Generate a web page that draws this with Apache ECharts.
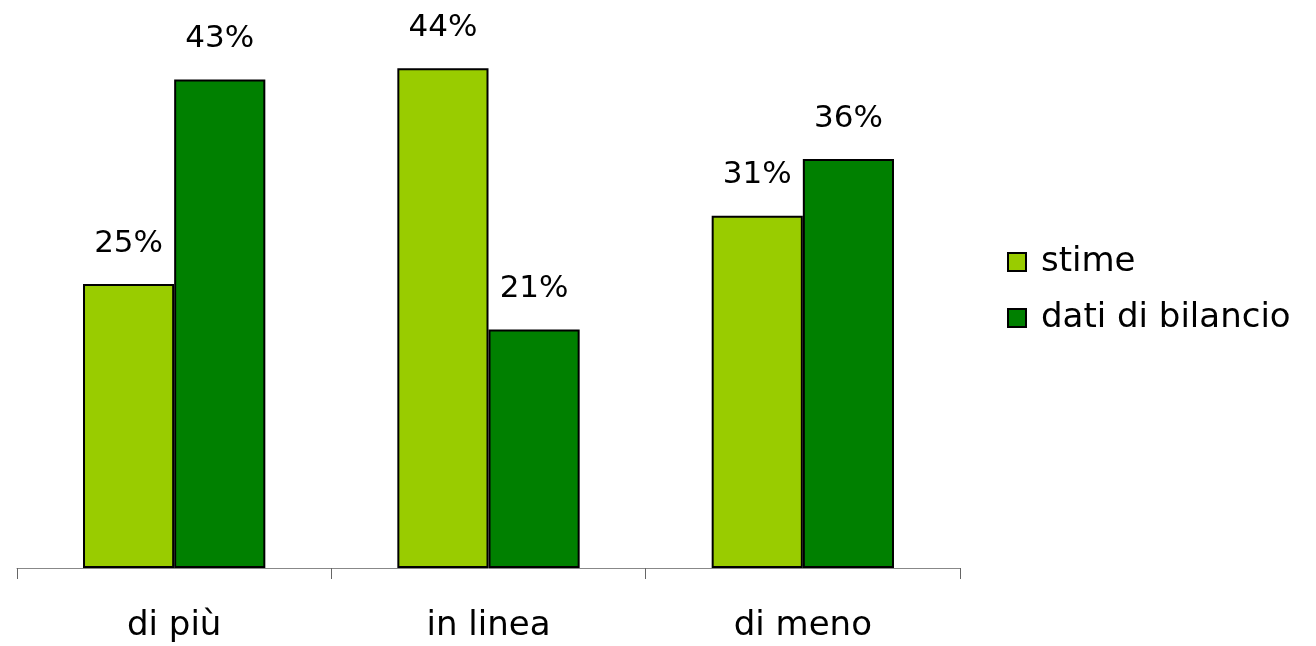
<!DOCTYPE html>
<html><head><meta charset="utf-8">
<script src="https://cdn.jsdelivr.net/npm/echarts@6/dist/echarts.min.js"></script>
<style>html,body{margin:0;padding:0;background:#fff}#c{width:1316px;height:646px}</style>
</head><body><div id="c"></div>
<script>
const categories = ['di più', 'in linea', 'di meno'];
const stime = [25, 44, 31];
const datiBilancio = [43, 21, 36];
const seriesNames = ['stime', 'dati di bilancio'];
const FONT = 'DejaVu Sans';
const chart = echarts.init(document.getElementById('c'));
const lbl = {show: true, position: 'top', distance: 25, color: '#000', fontSize: 31, fontFamily: FONT, formatter: '{c}%'};
chart.setOption({
  animation: false,
  grid: {left: 17, right: 356, top: 0, bottom: 78},
  legend: {
    orient: 'vertical', left: 1002, top: 240, itemGap: 22,
    itemWidth: 18, itemHeight: 18, icon: 'rect',
    textStyle: {fontSize: 34, fontFamily: FONT, color: '#000', padding: [0,0,0,10]},
    data: seriesNames
  },
  xAxis: {
    type: 'category', data: categories,
    axisLine: {lineStyle: {color: '#888', width: 1}},
    axisTick: {show: true, length: 11, lineStyle: {color: '#666'}},
    axisLabel: {fontSize: 34, fontFamily: FONT, color: '#000', margin: 41}
  },
  yAxis: {type: 'value', min: 0, max: 50, show: false, splitLine: {show: false}},
  series: [
    {name: seriesNames[0], type: 'bar', data: stime, barGap: '0%', barCategoryGap: '42%',
     itemStyle: {color: '#99CC00', borderColor: '#000', borderWidth: 2}, label: lbl},
    {name: seriesNames[1], type: 'bar', data: datiBilancio, barGap: '0%', barCategoryGap: '42%',
     itemStyle: {color: '#008000', borderColor: '#000', borderWidth: 2}, label: lbl}
  ]
});
</script></body></html>
